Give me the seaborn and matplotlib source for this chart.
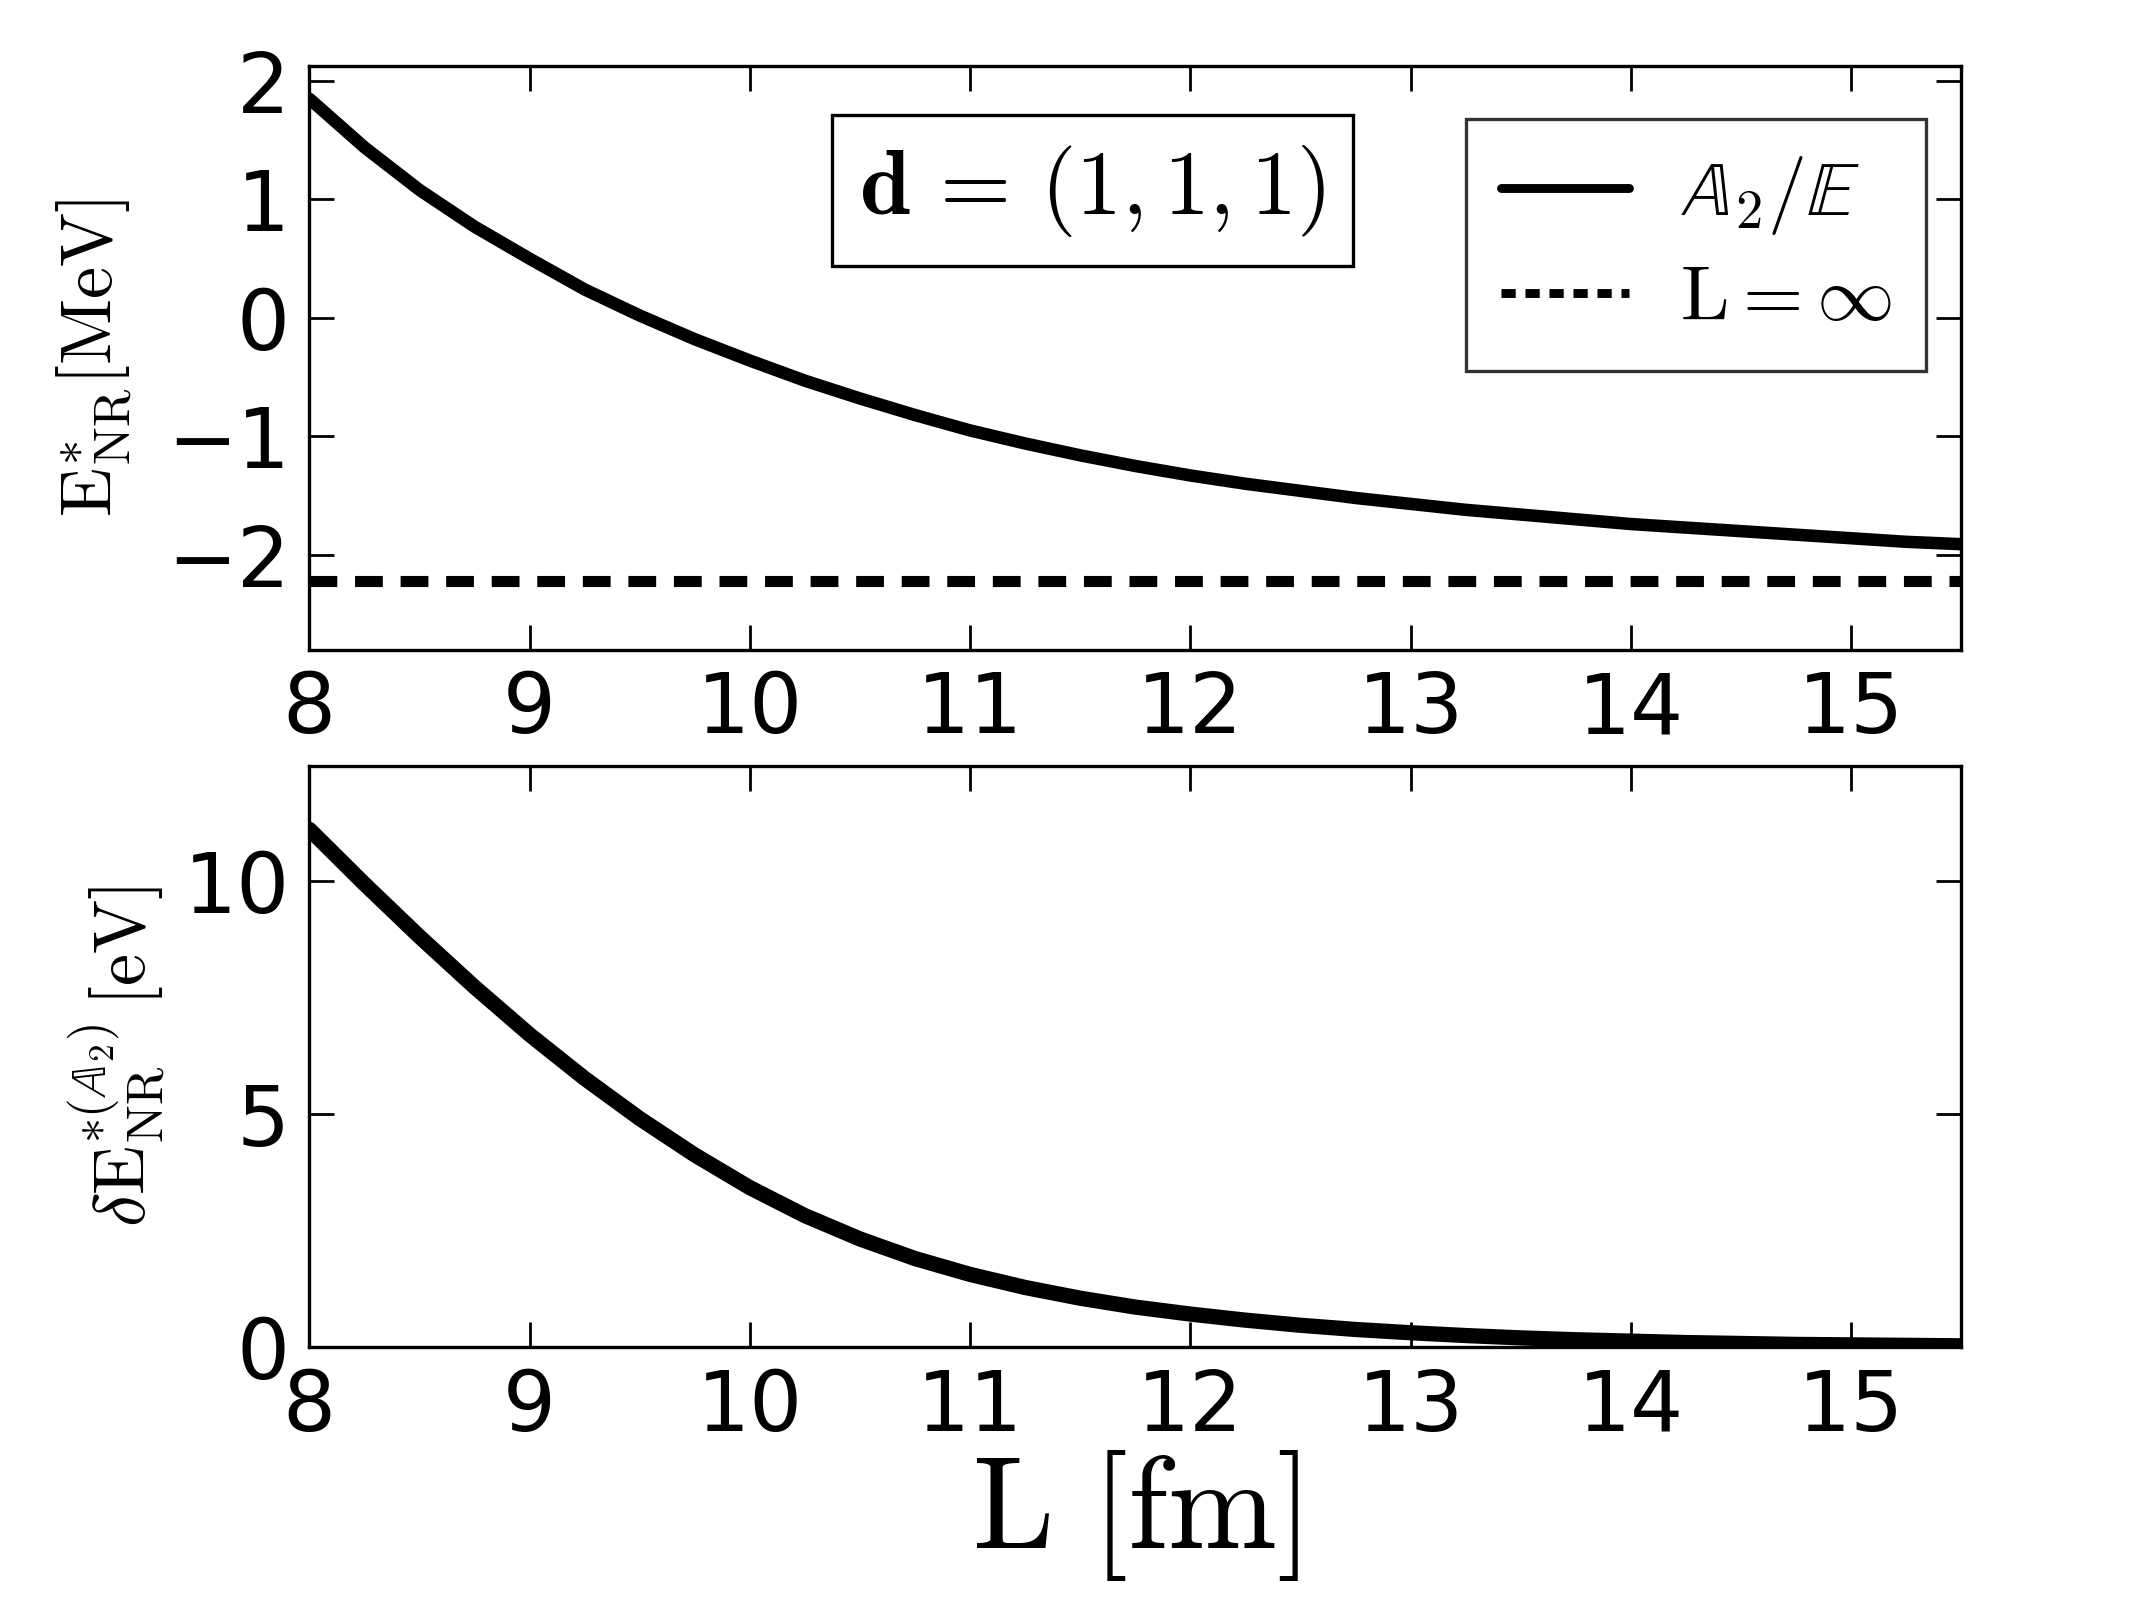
import matplotlib
matplotlib.use("Agg")
import matplotlib.pyplot as plt
import pandas as pd
import seaborn as sns

# Estilo: ticks para dentro, em todos os lados
sns.set_theme(style="ticks", rc={
    "xtick.direction": "in", "ytick.direction": "in",
    "xtick.top": True, "ytick.right": True,
    "xtick.major.size": 9, "ytick.major.size": 9,
    "xtick.major.width": 1.0, "ytick.major.width": 1.0,
    "axes.linewidth": 1.2, "axes.edgecolor": "black",
    "text.color": "black", "axes.labelcolor": "black",
    "xtick.color": "black", "ytick.color": "black",
    "mathtext.fontset": "cm",
})
plt.rcParams['font.family'] = ['DejaVu Sans']

# Dados
L_fm = [8.0, 8.25, 8.5, 8.75, 9.0, 9.25, 9.5, 9.75, 10.0, 10.25, 10.5, 10.75,
        11.0, 11.25, 11.5, 11.75, 12.0, 12.25, 12.5, 12.75, 13.0, 13.25, 13.5,
        13.75, 14.0, 14.25, 14.5, 14.75, 15.0, 15.25, 15.5]
E_nr = [1.85, 1.44, 1.08, 0.77, 0.50, 0.24, 0.02, -0.18, -0.36, -0.53, -0.68, -0.82,
        -0.95, -1.06, -1.16, -1.25, -1.33, -1.40, -1.46, -1.52, -1.57, -1.62, -1.66,
        -1.70, -1.74, -1.77, -1.80, -1.83, -1.86, -1.89, -1.91]
dE_nr = [11.1, 9.93, 8.8, 7.72, 6.7, 5.76, 4.9, 4.12, 3.42, 2.82, 2.32, 1.90,
         1.56, 1.28, 1.05, 0.86, 0.71, 0.58, 0.47, 0.38, 0.31, 0.25, 0.20,
         0.16, 0.13, 0.10, 0.08, 0.06, 0.05, 0.04, 0.03]
E_inf = -2.224

x_ticks = [8, 9, 10, 11, 12, 13, 14, 15]
top_yticks = [-2, -1, 0, 1, 2]
bot_yticks = [0, 5, 10]

dados = pd.DataFrame({"L": L_fm, "E": E_nr, "dE": dE_nr})

fig = plt.figure(figsize=(10.67, 8), dpi=200)
ax1 = fig.add_axes([0.145, 0.594, 0.774, 0.365])
ax2 = fig.add_axes([0.145, 0.158, 0.774, 0.363])

# Painel de cima
sns.lineplot(data=dados, x="L", y="E", ax=ax1, color="black", linewidth=4.5,
             label=r"$\mathbb{A}_2/\mathbb{E}$")
ax1.axhline(E_inf, color="black", linewidth=4, dashes=(2.5, 1.6),
            label=r"${\rm L}=\infty$")
ax1.set_xlim(8, 15.5)
ax1.set_ylim(-2.8, 2.13)
ax1.set_xticks(x_ticks)
ax1.set_yticks(top_yticks)
ax1.set_yticklabels(["\u22122", "\u22121", "0", "1", "2"])
ax1.set_xlabel("")
ax1.set_ylabel(r"${\rm E}^{*}_{\rm NR}[{\rm MeV}]$", fontsize=26, labelpad=12)
ax1.text(0.474, 0.786, r"$\mathbf{d}\,=\,(1,1,1)$", transform=ax1.transAxes,
         fontsize=33, ha="center", va="center",
         bbox=dict(boxstyle="square,pad=0.3", fc="white", ec="black", lw=1.2))
leg = ax1.legend(loc="upper right", fontsize=28, handlelength=1.65, frameon=True,
                 fancybox=False, edgecolor="black", borderpad=0.45, borderaxespad=0,
                 bbox_to_anchor=(0.979, 0.909), labelspacing=0.3, handletextpad=0.65)
leg.get_frame().set_linewidth(1.2)
for h in leg.get_lines():
    h.set_linewidth(3.2)
leg.get_lines()[1].set_dashes((1.6, 1.1))

# Painel de baixo
sns.lineplot(data=dados, x="L", y="dE", ax=ax2, color="black", linewidth=5.5)
ax2.set_xlim(8, 15.5)
ax2.set_ylim(0, 12.45)
ax2.set_xticks(x_ticks)
ax2.set_yticks(bot_yticks)
ax2.set_xlabel(r"${\rm L}\ [{\rm fm}]$", fontsize=47, labelpad=0)
ax2.set_ylabel(r"$\delta{\rm E}^{*(\mathbb{A}_2)}_{\rm NR}\,[{\rm eV}]$", fontsize=26, labelpad=6)

for ax in (ax1, ax2):
    ax.tick_params(labelsize=30, pad=7)
    for s in ax.spines.values():
        s.set_linewidth(1.2)

fig.savefig("out.png", dpi=200, facecolor="white")
